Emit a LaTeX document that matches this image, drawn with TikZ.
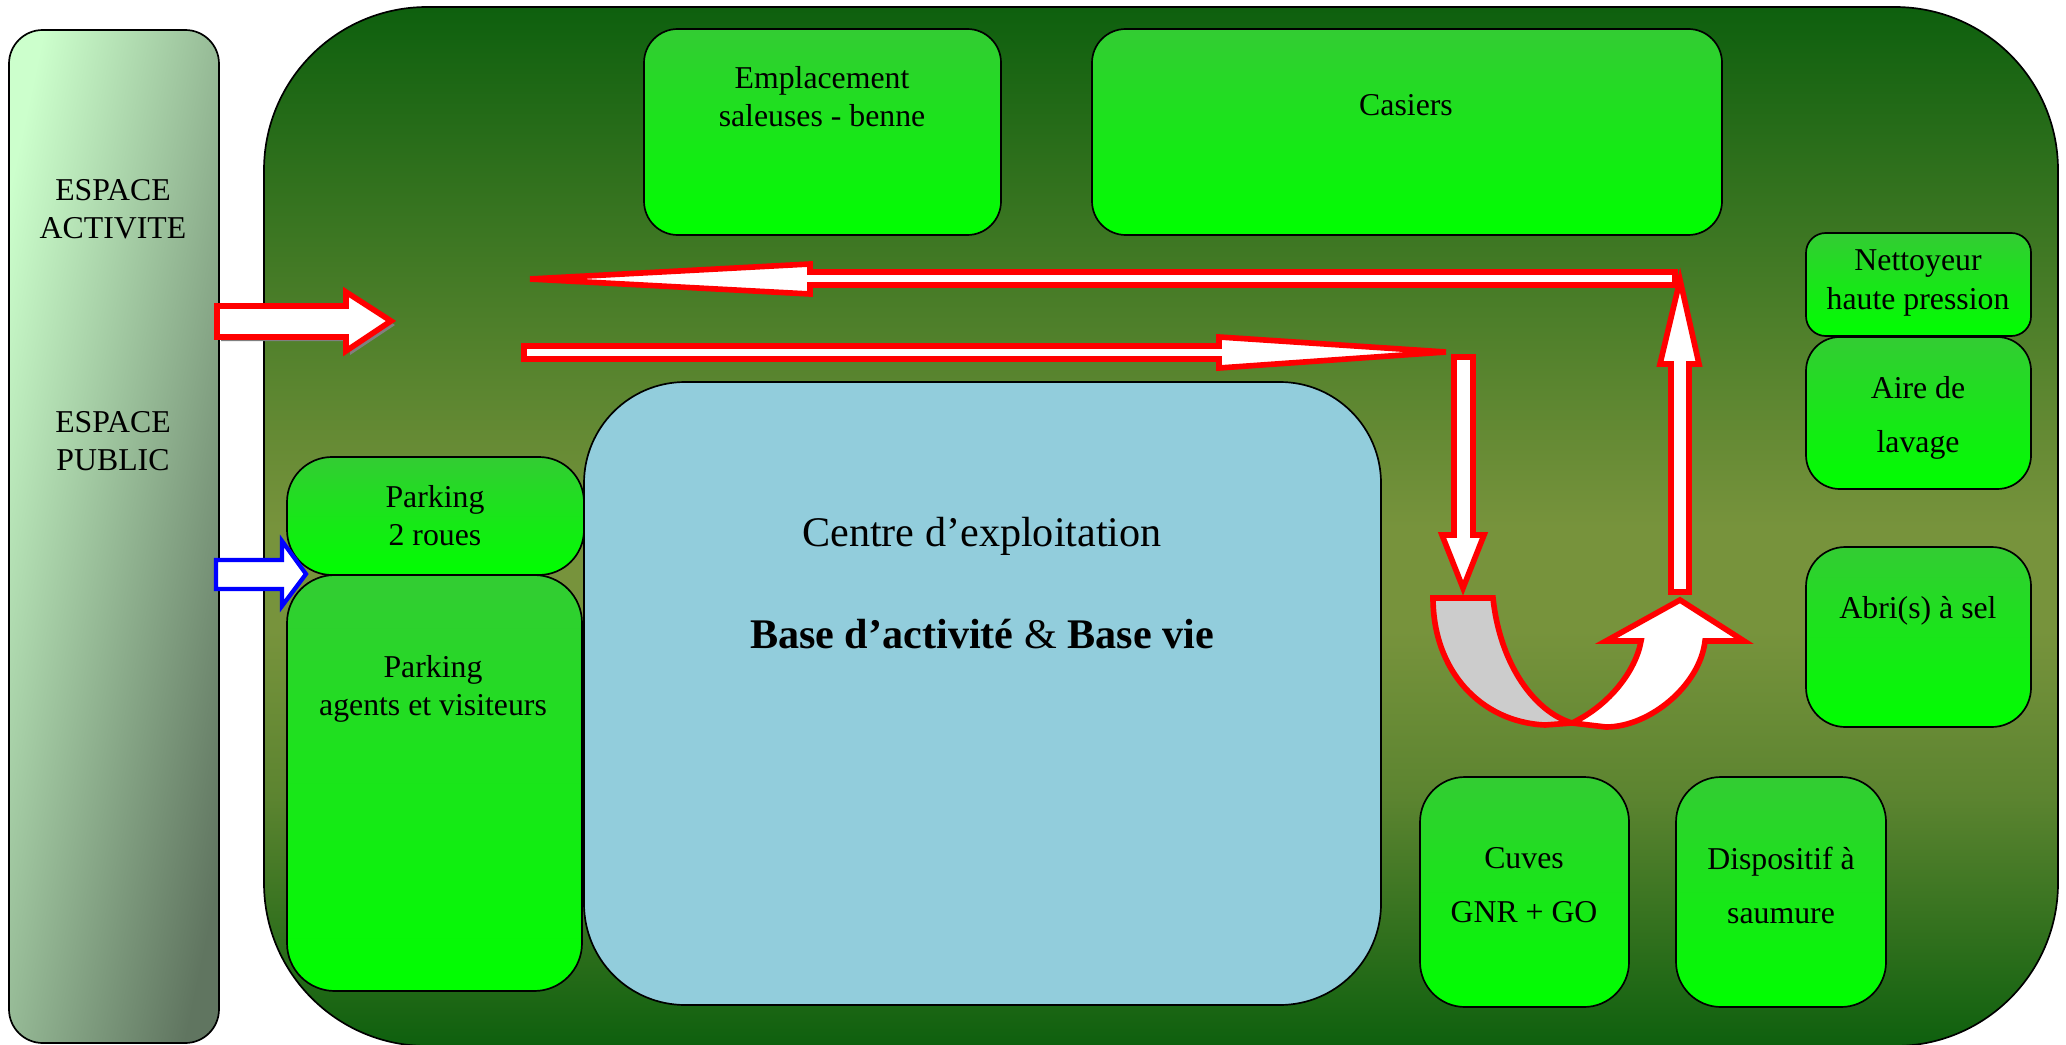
\documentclass[tikz,border=0pt]{standalone}
\usepackage{fontspec}
\setmainfont{Liberation Serif}

\definecolor{rouge}{RGB}{255,0,0}
\definecolor{bleu}{RGB}{0,0,255}
\definecolor{vertfonce}{RGB}{14,96,14}
\definecolor{olive}{RGB}{119,147,60}
\definecolor{olivesombre}{RGB}{92,132,48}
\definecolor{vertclair}{RGB}{51,204,51}
\definecolor{vertvif}{RGB}{0,255,0}
\definecolor{menthe}{RGB}{204,255,204}
\definecolor{grisvert}{RGB}{96,117,96}
\definecolor{bleuclair}{RGB}{146,205,220}

% degrade du site (haut sombre, olive vers le milieu, bas sombre)
\pgfdeclareverticalshading{site}{100bp}{color(0bp)=(vertfonce); color(25bp)=(vertfonce); color(37bp)=(olivesombre); color(45bp)=(olive); color(50bp)=(olive); color(75bp)=(vertfonce); color(100bp)=(vertfonce)}

\tikzset{
  zone/.style={draw=black, line width=0.6pt, top color=vertclair, bottom color=vertvif},
  lbl/.style={font=\fontsize{11.3}{13.6}\selectfont, align=center, inner sep=0pt},
  titre/.style={font=\fontsize{15}{18}\selectfont, inner sep=0pt},
  fleche/.style={draw=rouge, line width=2pt, fill=white},
}

\begin{document}
\begin{tikzpicture}[x=0.0125cm, y=-0.0125cm]
	\useasboundingbox (0,0) rectangle (2066,1045);
	% Espace activite / public
	\draw[line width=0.6pt, top color=menthe, bottom color=grisvert, shading angle=78, rounded corners=12pt] (9,30) rectangle (219,1043);
	\node[lbl] (activite) at (113,209) {ESPACE\\ACTIVITE};
	\node[lbl] (public) at (113,441) {ESPACE\\PUBLIC};
	
	% Site
	\draw[line width=0.6pt, shading=site, rounded corners=58pt] (264,7) rectangle (2058,1046);
	
	% Zones du haut
	\draw[zone, rounded corners=12pt] (644,29) rectangle (1001,235);
	\node[lbl] (saleuses) at (822,97) {Emplacement\\saleuses - benne};
	\draw[zone, rounded corners=12pt] (1092,29) rectangle (1722,235);
	\node[lbl] (casiers) at (1406,105) {Casiers};
	
	% Zones de droite
	\draw[zone, rounded corners=7pt] (1806,233) rectangle (2031,336);
	\node[lbl] (nettoyeur) at (1918,283) {Nettoyeur\\haute pression};
	\draw[zone, rounded corners=12pt] (1806,337) rectangle (2031,489);
	\node[lbl] (lavage) at (1918,418) {Aire de\\[5.6pt]lavage};
	\draw[zone, rounded corners=14pt] (1806,547) rectangle (2031,727);
	\node[lbl] (abri) at (1918,611) {Abri(s) à sel};
	
	% Zones du bas
	\draw[zone, rounded corners=16pt] (1420,777) rectangle (1629,1007);
	\node[lbl] (cuves) at (1524,885) {Cuves\\[5.6pt]GNR + GO};
	\draw[zone, rounded corners=16pt] (1676,777) rectangle (1886,1007);
	\node[lbl] (saumure) at (1781,885) {Dispositif à\\[5.6pt]saumure};
	
	% Centre d'exploitation
	\draw[line width=0.6pt, fill=bleuclair, rounded corners=36pt] (584,382) rectangle (1381,1005);
	\node[titre] (centre) at (982,536) {Centre d’exploitation};
	\node[titre] (base) at (982,634) {\textbf{Base d’activité} \& \textbf{Base vie}};
	
	% Parkings
	\draw[zone, rounded corners=16pt] (287,457) rectangle (584,575);
	\node[lbl] (roues) at (435,516) {Parking\\2 roues};
	\draw[zone, rounded corners=17pt] (287,575) rectangle (582,991);
	\node[lbl] (agents) at (433,689) {Parking\\agents et visiteurs};
	
	% Entrees
	\fill[gray, shift={(4,4)}] (217,306) -- (346,306) -- (346,292) -- (391,321) -- (346,351) -- (346,337) -- (217,337) -- cycle;
	\draw[fleche] (217,306) -- (346,306) -- (346,292) -- (391,321) -- (346,351) -- (346,337) -- (217,337) -- cycle;
	\draw[fleche, draw=bleu, line width=1.5pt] (216,560) -- (282,560) -- (282,541) -- (306,574) -- (282,606) -- (282,589) -- (216,589) -- cycle;
	
	% Circuit
	\draw[fleche] (524,346) -- (1219,346) -- (1219,337) -- (1446,352) -- (1219,368) -- (1219,359) -- (524,359) -- cycle;
	\draw[fleche] (1454,357) -- (1473,357) -- (1473,535) -- (1484,535) -- (1463,588) -- (1442,535) -- (1454,535) -- cycle;
	% Demi-tour
	\draw[fleche, fill=black!20] (1433,598) -- (1493,598) .. controls (1500,665) and (1535,712) .. (1572,723) -- (1545,725) .. controls (1480,722) and (1433,670) .. cycle;
	\draw[fleche] (1572,723) .. controls (1610,705) and (1636,670) .. (1641,641) -- (1606,641) -- (1680,600) -- (1744,641) -- (1705,641) .. controls (1700,685) and (1650,727) .. (1606,727) -- cycle;
	\draw[fleche] (1671,592) -- (1671,364) -- (1660,364) -- (1680,280) -- (1699,364) -- (1689,364) -- (1689,592) -- cycle;
	\draw[fleche] (1675,272) -- (810,272) -- (810,264) -- (530,279) -- (810,294) -- (810,285) -- (1675,285) -- cycle;
\end{tikzpicture}
\end{document}
